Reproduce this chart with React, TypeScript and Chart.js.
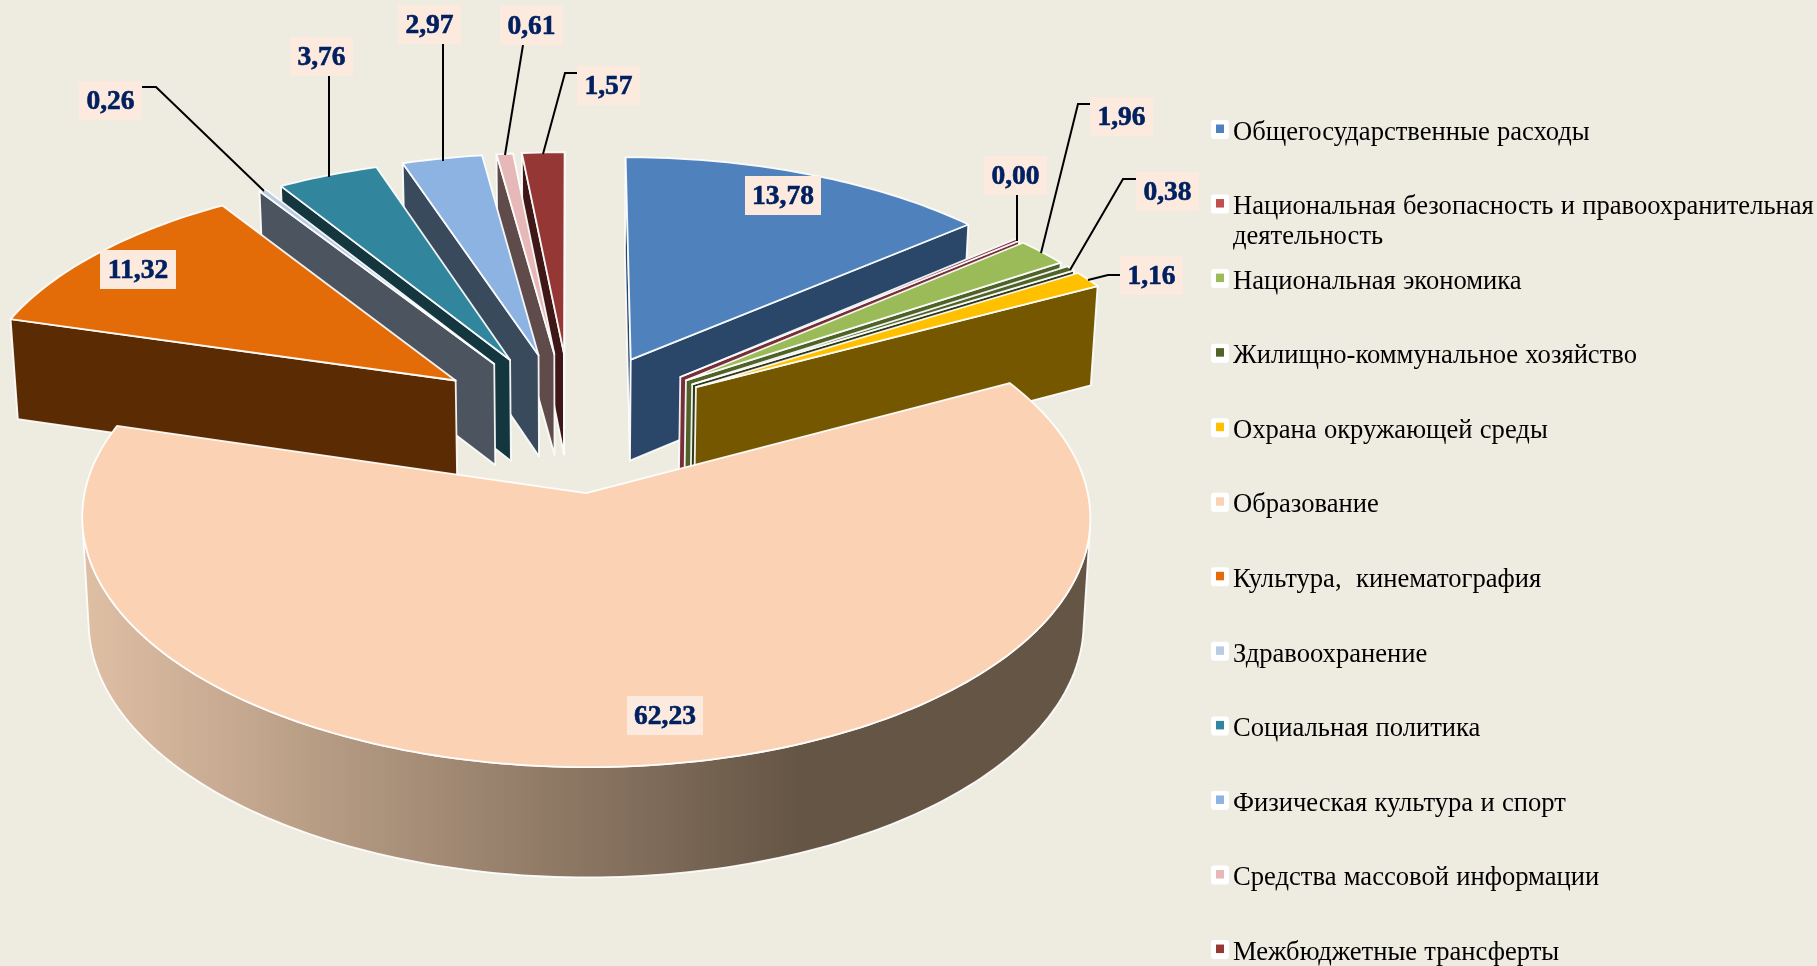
import React, { useEffect, useRef } from "react";
import { Chart, registerables } from "chart.js";

Chart.register(...registerables);

const categories = [
  "Общегосударственные расходы",
  "Национальная безопасность и правоохранительная деятельность",
  "Национальная экономика",
  "Жилищно-коммунальное хозяйство",
  "Охрана окружающей среды",
  "Образование",
  "Культура,  кинематография",
  "Здравоохранение",
  "Социальная политика",
  "Физическая культура и спорт",
  "Средства массовой информации",
  "Межбюджетные трансферты",
];
const values = [13.78, 0.0, 1.96, 0.38, 1.16, 62.23, 11.32, 0.26, 3.76, 2.97, 0.61, 1.57];
const topColors = ["#4F81BD", "#C0504D", "#9BBB59", "#4F6228", "#FFC000", "#FBD2B4", "#E36C09", "#B8CCE4", "#31859C", "#8DB3E2", "#E6B9B8", "#953735"];
const wallColors = ["#2A4769", "#77303A", "#4F6228", "#2D3818", "#755700", "#655545", "#5B2C03", "#4B545F", "#13363F", "#3A4A5D", "#5F4B4A", "#3F1716"];

// label box (x, y, w) and leader polyline for each slice, in page pixels
const labelBoxes = [
  [745, 176, 76], [984, 156, 63], [1090, 97, 63], [1136, 172, 63], [1120, 256, 63], [627, 696, 76],
  [100, 250, 76], [79, 81, 63], [290, 37, 63], [398, 5, 63], [500, 6, 63], [577, 66, 63],
];
const leaders: number[][][] = [
  [], [[1017, 195], [1017, 241]], [[1090, 104], [1078, 104], [1041, 253]], [[1136, 179], [1123, 179], [1070, 270]],
  [[1120, 275], [1108, 275], [1088, 280]], [], [], [[142, 87], [156, 87], [264, 191]],
  [[329, 76], [329, 177]], [[443, 44], [443, 161]], [[523, 45], [505, 155]], [[577, 73], [565, 73], [543, 154]],
];

const BG = "#EEECE1";
const X0 = 571, Y0 = 421.5, RX = 487.2, KY = 233, PERSP = 0.096;
const DEPTH_CX = 0.987, DEPTH_CY = 1.023, DEPTH_D = 92.7;
const MIN_SWEEP = 0.011;

const project = (u: number, v: number) => {
  const s = 1 / (1 - PERSP * v);
  return [X0 + RX * u * s, Y0 + KY * v * s];
};
const lower = (p: number[]) => [X0 + (p[0] - X0) * DEPTH_CX, DEPTH_CY * p[1] + DEPTH_D];

const poly = (ctx: CanvasRenderingContext2D, pts: number[][]) => {
  ctx.beginPath();
  pts.forEach((p, i) => (i ? ctx.lineTo(p[0], p[1]) : ctx.moveTo(p[0], p[1])));
  ctx.closePath();
};
const shoelace = (pts: number[][]) => {
  let a = 0;
  pts.forEach((p, i) => {
    const q = pts[(i + 1) % pts.length];
    a += p[0] * q[1] - q[0] * p[1];
  });
  return a;
};

const pie3d = {
  id: "pie3d",
  beforeDraw(chart: any) {
    const { ctx, width, height } = chart;
    ctx.save();
    ctx.fillStyle = BG;
    ctx.fillRect(0, 0, width, height);
    ctx.restore();
  },
  beforeDatasetsDraw(chart: any) {
    const ctx: CanvasRenderingContext2D = chart.ctx;
    const arcs: any[] = chart.getDatasetMeta(0).data;
    const items = arcs.map((arc, i) => {
      const e = arc.options.offset / arc.outerRadius;
      const mid = (arc.startAngle + arc.endAngle) / 2;
      const sweep = Math.max(arc.endAngle - arc.startAngle, MIN_SWEEP);
      return { i, e, mid, sweep, cu: e * Math.cos(mid), cv: e * Math.sin(mid) };
    });
    items.sort((a, b) => a.cv - b.cv);

    ctx.save();
    ctx.lineJoin = "round";
    for (const it of items) {
      const { i, mid, sweep, cu, cv } = it;
      const start = mid - sweep / 2;
      const n = Math.max(2, Math.ceil(sweep / 0.02));
      const apex = project(cu, cv);
      const rim: number[][] = [];
      for (let k = 0; k <= n; k++) {
        const a = start + (sweep * k) / n;
        rim.push(project(cu + Math.cos(a), cv + Math.sin(a)));
      }
      ctx.strokeStyle = "rgba(255,255,255,0.92)";
      ctx.lineWidth = 1.8;

      // radial walls
      const walls = [[apex, rim[0]], [rim[n], apex]];
      for (const [p, q] of walls) {
        const quad = [p, q, lower(q), lower(p)];
        if (shoelace(quad) < 0) {
          poly(ctx, quad);
          ctx.fillStyle = wallColors[i];
          ctx.fill();
          ctx.stroke();
        }
      }
      // outer wall: contiguous front-facing runs
      let run: number[][] = [];
      const flush = () => {
        if (run.length > 1) {
          const pts = [...run, ...run.slice().reverse().map(lower)];
          poly(ctx, pts);
          if (values[i] > 50) {
            const g = ctx.createLinearGradient(85, 0, 800, 0);
            g.addColorStop(0, "#DFBFA4");
            g.addColorStop(1, wallColors[i]);
            ctx.fillStyle = g;
          } else {
            ctx.fillStyle = wallColors[i];
          }
          ctx.fill();
          ctx.stroke();
        }
        run = [];
      };
      for (let k = 0; k < n; k++) {
        const p = rim[k], q = rim[k + 1];
        if (shoelace([p, q, lower(q), lower(p)]) < 0) {
          if (!run.length) run.push(p);
          run.push(q);
        } else flush();
      }
      flush();

      // top face
      poly(ctx, [apex, ...rim]);
      ctx.fillStyle = values[i] === 0 ? wallColors[i] : topColors[i];
      ctx.fill();
      ctx.stroke();
    }
    ctx.restore();
    return false;
  },
  afterDraw(chart: any) {
    const ctx: CanvasRenderingContext2D = chart.ctx;
    ctx.save();
    // leaders and value labels
    ctx.strokeStyle = "#000";
    ctx.lineWidth = 2;
    leaders.forEach((l) => {
      if (!l.length) return;
      ctx.beginPath();
      l.forEach((p, i) => (i ? ctx.lineTo(p[0], p[1]) : ctx.moveTo(p[0], p[1])));
      ctx.stroke();
    });
    ctx.textAlign = "center";
    ctx.textBaseline = "middle";
    ctx.font = 'bold 27.5px "Liberation Serif"';
    ctx.lineWidth = 0.6;
    ctx.strokeStyle = "#002060";
    values.forEach((v, i) => {
      const [x, y, w] = labelBoxes[i];
      ctx.fillStyle = "#FDEADF";
      ctx.fillRect(x, y, w, 39);
      ctx.fillStyle = "#002060";
      const t = v.toFixed(2).replace(".", ",");
      ctx.fillText(t, x + w / 2, y + 21);
      ctx.strokeText(t, x + w / 2, y + 21);
    });
    // legend
    ctx.textAlign = "left";
    ctx.textBaseline = "alphabetic";
    ctx.font = '26.6px "Liberation Serif"';
    (ctx as any).wordSpacing = "0.6px";
    categories.forEach((c, i) => {
      const y = 131 + i * 74.55;
      ctx.fillStyle = "#fff";
      ctx.beginPath();
      ctx.roundRect(1211, y - 11, 18, 19, 3);
      ctx.fill();
      ctx.fillStyle = topColors[i];
      ctx.fillRect(1216, y - 6.5, 8, 8.5);
      ctx.fillStyle = "#000";
      let lines = [c];
      if (ctx.measureText(c).width > 590) {
        const cut = c.lastIndexOf(" ");
        lines = [c.slice(0, cut), c.slice(cut + 1)];
      }
      lines.forEach((t, k) => ctx.fillText(t, 1233, y + 8.7 + k * 30));
    });
    ctx.restore();
  },
};

export default function App() {
  const ref = useRef<HTMLCanvasElement>(null);
  useEffect(() => {
    document.body.style.margin = "0";
    document.body.style.background = BG;
    const chart = new Chart(ref.current!, {
      type: "pie",
      data: {
        labels: categories,
        datasets: [{ data: values, backgroundColor: topColors, borderWidth: 0, offset: 126 }],
      },
      options: {
        responsive: false,
        animation: false,
        layout: { padding: 0 },
        plugins: { legend: { display: false }, tooltip: { enabled: false } },
      },
      plugins: [pie3d],
    } as any);
    return () => chart.destroy();
  }, []);
  return <canvas ref={ref} width={1817} height={966} style={{ display: "block" }} />;
}
